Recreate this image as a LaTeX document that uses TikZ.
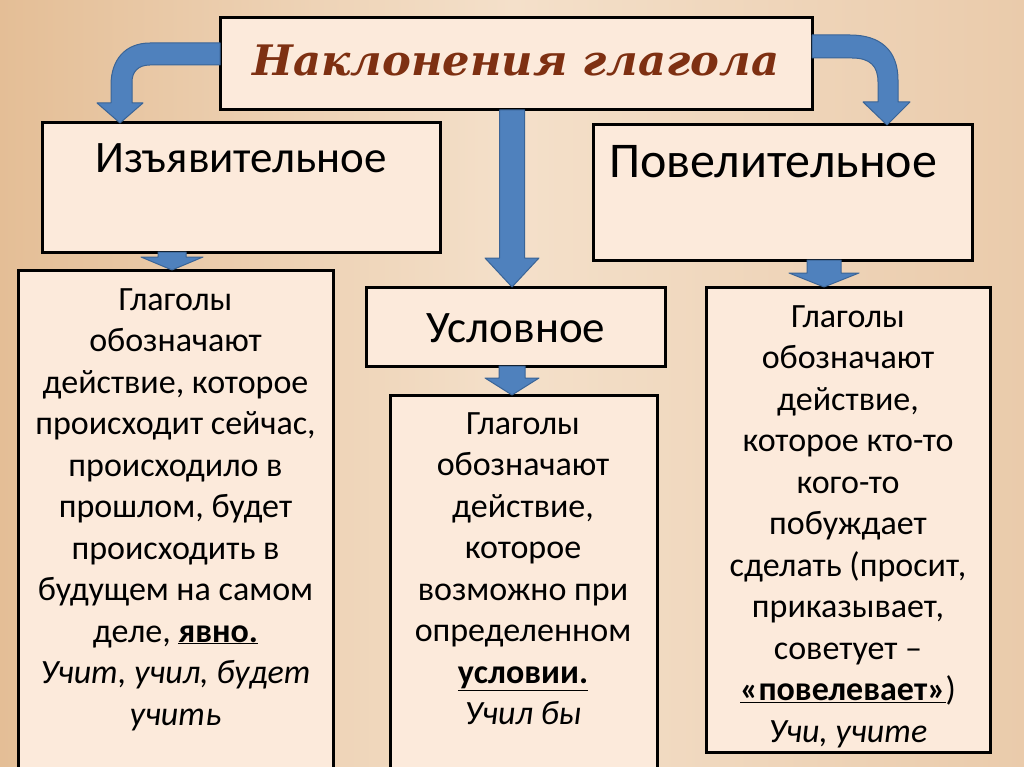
\documentclass[tikz,border=0pt]{standalone}
\usepackage{fontspec}
\setmainfont{Carlito}
\newfontfamily\titlefont{DejaVu Serif}
\usetikzlibrary{calc}
\definecolor{bgA}{HTML}{E4BE96}
\definecolor{bgB}{HTML}{F4E0CA}
\definecolor{bgC}{HTML}{EACBAB}
\definecolor{boxfill}{HTML}{FCEADB}
\definecolor{arrfill}{HTML}{4F81BD}
\definecolor{arrdraw}{HTML}{3A6496}
\definecolor{titlecol}{HTML}{7E3012}
\tikzset{
  box/.style={draw=black, line width=3pt, fill=boxfill, anchor=north west, inner sep=0pt, outer sep=0pt},
  barrow/.style={fill=arrfill, draw=arrdraw, line width=1pt, line join=round},
  body/.style={align=center, anchor=north, inner sep=0pt, font=\fontsize{34}{41.5}\selectfont},
  label/.style={anchor=north, inner sep=0pt},
}
% block arrow pointing down: #1 start, #2 tip, #3 shaft half width, #4 head half width, #5 head length
\newcommand\bdown[5]{%
  \path[barrow] ($(#1)+(-#3,0)$) -- ($(#2)+(-#3,-#5)$) -- ($(#2)+(-#4,-#5)$) -- (#2)
    -- ($(#2)+(#4,-#5)$) -- ($(#2)+(#3,-#5)$) -- ($(#1)+(#3,0)$) -- cycle;}
\begin{document}
\begin{tikzpicture}[x=1pt,y=-1pt]
\useasboundingbox (0,0) rectangle (1024,767);
\clip (0,0) rectangle (1024,767);
\shade[left color=bgA, right color=bgC, middle color=bgB] (0,0) rectangle (1024,767);

% boxes
\node[box, minimum width=592pt, minimum height=92pt] (title) at (220,18) {};
\node[box, minimum width=398pt, minimum height=129pt] (lbox) at (42,123) {};
\node[box, minimum width=379pt, minimum height=135pt] (rbox) at (593,125) {};
\node[box, minimum width=299pt, minimum height=79pt] (cbox) at (366,287) {};
\node[box, minimum width=315pt, minimum height=520pt] (ldesc) at (18,270) {};
\node[box, minimum width=267pt, minimum height=400pt] (cdesc) at (390,395) {};
\node[box, minimum width=284pt, minimum height=465pt] (rdesc) at (706,287) {};

% titles
\node[text=titlecol, inner sep=0pt] (ttext) at ($(title.center)+(0,-4)$)
  {\scalebox{1.08}[1.05]{\titlefont\bfseries\itshape\fontsize{40}{50}\selectfont Наклонения глагола}};
\node[label, font=\fontsize{45}{52}\selectfont] (ltext) at ($(lbox.north west)+(199,20)$) {Изъявительное};
\node[label, font=\fontsize{50}{56}\selectfont] (rtext) at ($(rbox.north west)+(180,20)$) {Повелительное};
\node[label, font=\fontsize{45}{52}\selectfont] (ctext) at ($(cbox.north west)+(150,26)$) {Условное};

% descriptions
\node[body] (ldtext) at ($(ldesc.north west)+(157.5,18)$) {Глаголы\\обозначают\\действие, которое\\происходит сейчас,\\происходило в\\прошлом, будет\\происходить в\\будущем на самом\\деле, \underline{\textbf{явно.}}\\\textit{Учит, учил, будет}\\\textit{учить}};
\node[body] (cdtext) at ($(cdesc.north west)+(133,17)$) {Глаголы\\обозначают\\действие,\\которое\\возможно при\\определенном\\\underline{\textbf{условии.}}\\\textit{Учил бы}};
\node[body] (rdtext) at ($(rdesc.north west)+(142,18)$) {Глаголы\\обозначают\\действие,\\которое кто-то\\кого-то\\побуждает\\сделать (просит,\\приказывает,\\советует --\\\underline{\textbf{«повелевает»}})\\\textit{Учи, учите}};

% curved arrows
\path[barrow] ($(title.north west)+(0,25)$) -- ($(title.north west)+(-70,25)$)
  .. controls ($(title.north west)+(-95,25)$) and ($(title.north west)+(-109,42)$) .. ($(lbox.north west)+(69,-38)$)
  -- ($(lbox.north west)+(69,-20)$) -- ($(lbox.north west)+(55,-20)$) -- ($(lbox.north west)+(78,0)$)
  -- ($(lbox.north west)+(101,-20)$) -- ($(lbox.north west)+(90,-20)$) -- ($(lbox.north west)+(90,-41)$)
  .. controls ($(lbox.north west)+(90,-51)$) and ($(lbox.north west)+(96,-58)$) .. ($(title.north west)+(-70,47)$)
  -- ($(title.north west)+(0,47)$) -- cycle;
\path[barrow] ($(title.north east)+(0,17)$) -- ($(title.north east)+(38,17)$)
  .. controls ($(title.north east)+(68,17)$) and ($(title.north east)+(86,32)$) .. ($(rbox.north west)+(305,-45)$)
  -- ($(rbox.north west)+(305,-23)$) -- ($(rbox.north west)+(317,-23)$) -- ($(rbox.north west)+(294,0)$)
  -- ($(rbox.north west)+(270,-23)$) -- ($(rbox.north west)+(285,-23)$) -- ($(rbox.north west)+(285,-43)$)
  .. controls ($(rbox.north west)+(285,-59)$) and ($(rbox.north west)+(277,-67)$) .. ($(title.north east)+(40,40)$)
  -- ($(title.north east)+(0,40)$) -- cycle;

% straight arrows
\coordinate (cx) at (512,0);
\coordinate (lx) at (172,0);
\coordinate (rx) at (824,0);
\bdown{title.south -| cx}{cbox.north -| cx}{12.5}{27}{29}
\bdown{lbox.south -| lx}{ldesc.north -| lx}{14}{31}{13}
\bdown{cbox.south -| cx}{cdesc.north -| cx}{13}{27}{17}
\bdown{rbox.south -| rx}{rdesc.north -| rx}{17}{35}{14}
\end{tikzpicture}
\end{document}
